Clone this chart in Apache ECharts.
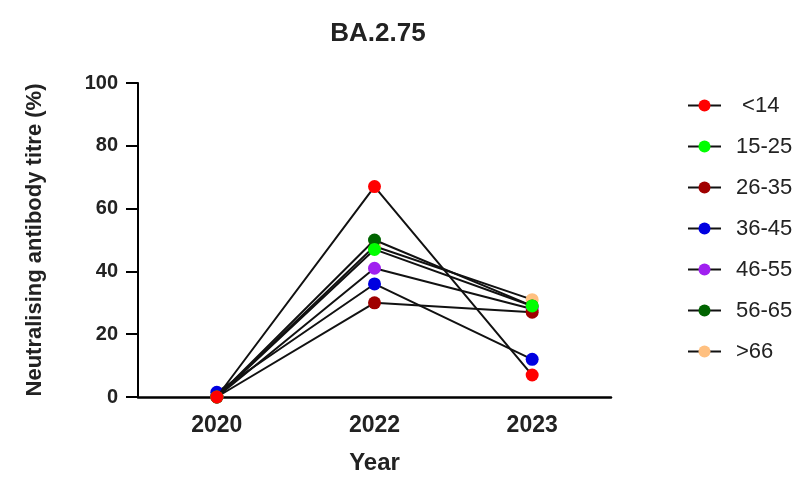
<!DOCTYPE html>
<html><head><meta charset="utf-8">
<script src="https://cdn.jsdelivr.net/npm/echarts@6/dist/echarts.min.js"></script>
<style>html,body{margin:0;padding:0;background:#fff}#c{width:805px;height:477px}</style>
</head><body><div id="c"></div>
<script>
const years = ['2020', '2022', '2023'];
const groups = [' <14', '15-25', '26-35', '36-45', '46-55', '56-65', '>66'];
const colors = ['#ff0000', '#00ff00', '#a00000', '#0000e0', '#a020f0', '#006400', '#ffc080'];
const v_lt14 = [0, 67, 7];
const v_15_25 = [0, 47, 29];
const v_26_35 = [0, 30, 27];
const v_36_45 = [1.5, 36, 12];
const v_46_55 = [0, 41, 28];
const v_56_65 = [0, 50, 29];
const v_gt66 = [0, 48, 31];
const values = [v_lt14, v_15_25, v_26_35, v_36_45, v_46_55, v_56_65, v_gt66];
const yTicks = [0, 20, 40, 60, 80, 100];

const FONT = 'Liberation Sans, Arial, sans-serif';
const series = [];
for (let i = groups.length - 1; i >= 0; i--) {
  series.push({
    name: groups[i], type: 'line', data: values[i],
    symbol: 'circle', symbolSize: 13,
    itemStyle: { color: colors[i] },
    lineStyle: { color: '#111', width: 2 },
    z: 2 + (groups.length - i)
  });
}
const chart = echarts.init(document.getElementById('c'));
chart.setOption({
  animation: false,
  title: { text: 'BA.2.75', left: 373, textAlign: 'center', top: 16,
    textStyle: { fontFamily: FONT, fontWeight: 'bold', fontSize: 26, color: '#222' } },
  legend: {
    data: groups, orient: 'vertical', left: 682, top: 89, itemGap: 18,
    itemWidth: 33, itemHeight: 15,
    textStyle: { fontFamily: FONT, fontSize: 22, lineHeight: 23, color: '#222', padding: [0,0,0,10] }
  },
  grid: { left: 138, right: 194, top: 83, bottom: 80, containLabel: false, outerBoundsMode: 'none' },
  xAxis: {
    type: 'category', data: years, boundaryGap: true,
    name: 'Year', nameLocation: 'middle', nameGap: 54,
    nameTextStyle: { fontFamily: FONT, fontWeight: 'bold', fontSize: 24, color: '#222' },
    axisLine: { lineStyle: { color: '#000', width: 2.5 } },
    axisTick: { alignWithLabel: true, length: 10, lineStyle: { color: '#000', width: 2 } },
    axisLabel: { fontFamily: FONT, fontWeight: 'bold', fontSize: 23, color: '#222', margin: 17 }
  },
  yAxis: {
    type: 'value', min: yTicks[0], max: yTicks[yTicks.length-1], interval: 20,
    name: 'Neutralising antibody titre (%)', nameLocation: 'middle', nameGap: 92,
    nameTextStyle: { fontFamily: FONT, fontWeight: 'bold', fontSize: 22, color: '#222' },
    splitLine: { show: false },
    axisLine: { show: true, lineStyle: { color: '#000', width: 2 } },
    axisTick: { show: true, length: 12, lineStyle: { color: '#000', width: 2 } },
    axisLabel: { fontFamily: FONT, fontWeight: 'bold', fontSize: 20, color: '#222', margin: 20 }
  },
  series: series
});
</script></body></html>
